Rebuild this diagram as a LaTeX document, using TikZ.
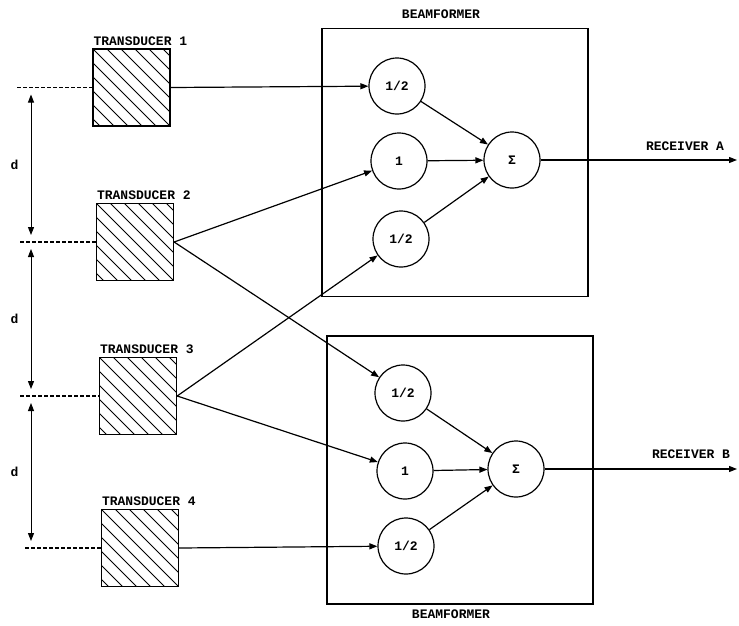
\documentclass[tikz,border=0pt]{standalone}
\usepackage{fontspec}
\setmonofont{Liberation Mono}
\usetikzlibrary{arrows.meta,positioning,calc}
\newcommand{\lblfont}{\ttfamily\bfseries\fontsize{13}{15}\selectfont}
\tikzset{
  xducer/.style={draw, line width=1.3pt, minimum size=77pt, inner sep=0pt,
    path picture={\foreach \k in {-6,...,6}
      \draw[line width=0.9pt] ([xshift=\k*14pt]path picture bounding box.north west) -- ++(-45:130pt);}},
  weight/.style={draw, circle, line width=1.2pt, minimum size=56pt, inner sep=0pt, font=\lblfont},
  sumnode/.style={weight},
  bfbox/.style={draw, line width=1.2pt, minimum width=266pt, minimum height=268pt, inner sep=0pt},
  lbl/.style={font=\lblfont, inner sep=1pt},
  arrow/.style={-{Triangle[length=8pt,width=6pt]}, line width=1.2pt},
  dimarrow/.style={{Triangle[length=8pt,width=6pt]}-{Triangle[length=8pt,width=6pt]}, line width=1pt, shorten >=7pt, shorten <=7pt},
  refline/.style={dash pattern=on 4pt off 2pt, line width=1.2pt}
}
\begin{document}
\begin{tikzpicture}[x=1pt, y=-1pt]
  \useasboundingbox (0,0) rectangle (739,625);

  % beamformers
  \node[bfbox] (bfa) at (455,162.5) {};
  \node[bfbox] (bfb) at (460,470) {};
  \node[lbl] (bfalab) at (441,14) {BEAMFORMER};
  \node[lbl] (bfblab) at (451,614) {BEAMFORMER};

  % transducers
  \node[xducer] (t1) at (131.5,87.5) {};
  \node[xducer] (t2) at (135,242) {};
  \node[xducer] (t3) at (138,396) {};
  \node[xducer] (t4) at (140,548) {};
  \node[lbl, anchor=south west] (t1lab) at ([yshift=2pt]t1.north west) {TRANSDUCER 1};
  \node[lbl, anchor=south west] (t2lab) at ([yshift=2pt]t2.north west) {TRANSDUCER 2};
  \node[lbl, anchor=south west] (t3lab) at ([yshift=2pt]t3.north west) {TRANSDUCER 3};
  \node[lbl, anchor=south west] (t4lab) at ([yshift=2pt]t4.north west) {TRANSDUCER 4};

  % weights and sums
  \node[weight] (a1) at (397,86) {1/2};
  \node[weight] (a2) at (399,161) {1};
  \node[weight] (a3) at (401,239) {1/2};
  \node[sumnode] (sa) at (512,160) {Σ};
  \node[weight] (b1) at (403,393) {1/2};
  \node[weight] (b2) at (405,471) {1};
  \node[weight] (b3) at (406,546) {1/2};
  \node[sumnode] (sb) at (516,469) {Σ};

  % reference lines and spacing
  \coordinate (r1) at (17,87.5);
  \coordinate (r2) at (20,242);
  \coordinate (r3) at (20,396);
  \coordinate (r4) at (25,548);
  \draw[refline] (r1) -- (t1.west);
  \draw[refline] (r2) -- (t2.west);
  \draw[refline] (r3) -- (t3.west);
  \draw[refline] (r4) -- (t4.west);
  \draw[dimarrow] (31,87.5) -- node[lbl, left=11pt]{d} (31,242);
  \draw[dimarrow] (31,242) -- node[lbl, left=11pt]{d} (31,396);
  \draw[dimarrow] (31,396) -- node[lbl, left=11pt]{d} (31,548);

  % signal paths
  \draw[arrow] (t1.east) -- (a1);
  \draw[arrow] (t2.east) -- (a2);
  \draw[arrow] (t2.east) -- (b1);
  \draw[arrow] (t3.east) -- (a3);
  \draw[arrow] (t3.east) -- (b2);
  \draw[arrow] (t4.east) -- (b3);
  \foreach \w in {a1,a2,a3} \draw[arrow] (\w) -- (sa);
  \foreach \w in {b1,b2,b3} \draw[arrow] (\w) -- (sb);

  % outputs
  \coordinate (reca) at (737,160);
  \coordinate (recb) at (737,469);
  \draw[arrow] (sa) -- (reca);
  \draw[arrow] (sb) -- (recb);
  \node[lbl] (recalab) at (685,146) {RECEIVER A};
  \node[lbl] (recblab) at (691,454) {RECEIVER B};
\end{tikzpicture}
\end{document}
